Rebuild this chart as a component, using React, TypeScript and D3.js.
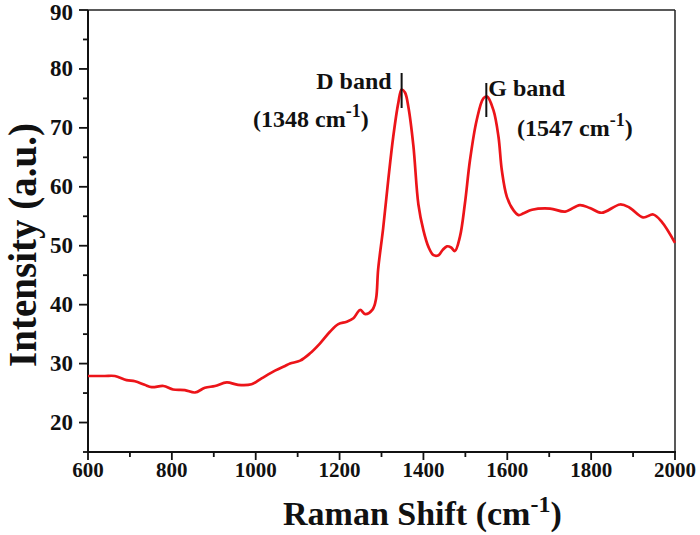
import React from "react";
import * as d3 from "d3";

const ramanShift = [600, 640, 664, 692, 712, 735, 752, 780, 803, 831, 855, 879, 903, 931, 958, 990, 1014, 1046, 1070, 1082, 1106, 1129, 1153, 1177, 1197, 1217, 1233, 1249, 1261, 1279, 1287, 1292, 1304, 1316, 1328, 1340, 1348, 1356, 1364, 1376, 1388, 1400, 1412, 1424, 1436, 1446, 1456, 1466, 1475, 1487, 1499, 1511, 1527, 1543, 1552, 1567, 1579, 1587, 1599, 1615, 1627, 1639, 1659, 1702, 1738, 1773, 1797, 1825, 1869, 1891, 1924, 1948, 1968, 2000];
const intensity = [27.9, 27.9, 27.9, 27.2, 27.0, 26.4, 26.0, 26.2, 25.6, 25.5, 25.1, 25.9, 26.2, 26.8, 26.4, 26.5, 27.5, 28.8, 29.6, 30.0, 30.5, 31.7, 33.4, 35.4, 36.7, 37.1, 37.7, 39.1, 38.4, 39.2, 41.0, 46.0, 53.0, 61.1, 68.5, 74.2, 76.5, 76.0, 73.6, 67.0, 57.0, 52.6, 49.8, 48.4, 48.4, 49.3, 49.9, 49.7, 49.1, 51.5, 57.2, 64.5, 71.3, 75.0, 75.3, 73.0, 68.5, 62.8, 58.3, 56.0, 55.2, 55.5, 56.1, 56.3, 55.8, 56.9, 56.4, 55.6, 57.0, 56.5, 54.8, 55.3, 54.1, 50.5];

const xMajorTicks = [600, 800, 1000, 1200, 1400, 1600, 1800, 2000];
const xMinorTicks = [700, 900, 1100, 1300, 1500, 1700, 1900];
const yMajorTicks = [20, 30, 40, 50, 60, 70, 80, 90];
const yMinorTicks = [15, 25, 35, 45, 55, 65, 75, 85];

const peaks = [
  { name: "D band", pos: 1348, label: "1348" },
  { name: "G band", pos: 1550, label: "1547" },
];

const FONT = "'Liberation Serif', 'Times New Roman', serif";

export default function App() {
  const W = 700, H = 535;
  const left = 88, right = 675, top = 10, bottom = 452;
  const x = d3.scaleLinear().domain([600, 2000]).range([left, right]);
  const y = d3.scaleLinear().domain([15, 90]).range([bottom, top]);
  const pts = ramanShift.map((v, i) => [v, intensity[i]] as [number, number]);
  const line = d3
    .line<[number, number]>()
    .x((d) => x(d[0]))
    .y((d) => y(d[1]))
    .curve(d3.curveCatmullRom.alpha(0.5));
  const path = line(pts) || "";

  const dX = x(peaks[0].pos);
  const gX = x(peaks[1].pos);

  return (
    <svg width={W} height={H} style={{ position: "absolute", left: 0, top: 0, background: "#fff" }} fontFamily={FONT} fontWeight="bold">
      <rect x={0} y={0} width={W} height={H} fill="#fff" />
      {/* frame */}
      <line x1={left} x2={right} y1={top} y2={top} stroke="#222" strokeWidth={1.5} />
      <line x1={right} x2={right} y1={top} y2={bottom} stroke="#222" strokeWidth={1.5} />
      <line x1={left} x2={left} y1={top} y2={bottom + 1} stroke="#111" strokeWidth={2} />
      <line x1={left - 1} x2={right + 1} y1={bottom} y2={bottom} stroke="#111" strokeWidth={2} />
      {/* curve */}
      <path d={path} fill="none" stroke="#ec1419" strokeWidth={2.7} strokeLinejoin="round" />
      {/* x ticks */}
      {xMajorTicks.map((t) => (
        <g key={"xm" + t}>
          <line x1={x(t)} x2={x(t)} y1={bottom} y2={bottom + 8} stroke="#111" strokeWidth={1.8} />
          <text x={x(t)} y={bottom + 25} textAnchor="middle" fontSize={21} fill="#111">{t}</text>
        </g>
      ))}
      {xMinorTicks.map((t) => (
        <line key={"xn" + t} x1={x(t)} x2={x(t)} y1={bottom} y2={bottom + 5} stroke="#111" strokeWidth={1.8} />
      ))}
      {/* y ticks */}
      {yMajorTicks.map((t) => (
        <g key={"ym" + t}>
          <line x1={left} x2={left - 9} y1={y(t)} y2={y(t)} stroke="#111" strokeWidth={1.8} />
          <text x={left - 15} y={Math.max(y(t) + 7.5, 20)} textAnchor="end" fontSize={23} fill="#111">{t}</text>
        </g>
      ))}
      {yMinorTicks.map((t) => (
        <line key={"yn" + t} x1={left} x2={left - 5} y1={y(t)} y2={y(t)} stroke="#111" strokeWidth={1.8} />
      ))}
      {/* axis titles */}
      <text x={283} y={525} fontSize={34} fill="#111">
        Raman Shift (cm<tspan dy={-13} fontSize={24}>-1</tspan><tspan dy={13}>)</tspan>
      </text>
      <text transform={`translate(36, 245) rotate(-90)`} textAnchor="middle" fontSize={39} fill="#111">
        Intensity (a.u.)
      </text>
      {/* annotations */}
      <line x1={dX} x2={dX} y1={73} y2={108} stroke="#111" strokeWidth={2} />
      <line x1={gX} x2={gX} y1={83} y2={117} stroke="#111" strokeWidth={2} />
      <text x={dX - 10} y={89} textAnchor="end" fontSize={24} fill="#111">{peaks[0].name}</text>
      <text x={253} y={127} fontSize={24} fill="#111">
        ({peaks[0].label} cm<tspan dy={-10} fontSize={18}>-1</tspan><tspan dy={10}>)</tspan>
      </text>
      <text x={gX + 2} y={96} fontSize={24} fill="#111">{peaks[1].name}</text>
      <text x={517} y={136} fontSize={24} fill="#111">
        ({peaks[1].label} cm<tspan dy={-10} fontSize={18}>-1</tspan><tspan dy={10}>)</tspan>
      </text>
    </svg>
  );
}
